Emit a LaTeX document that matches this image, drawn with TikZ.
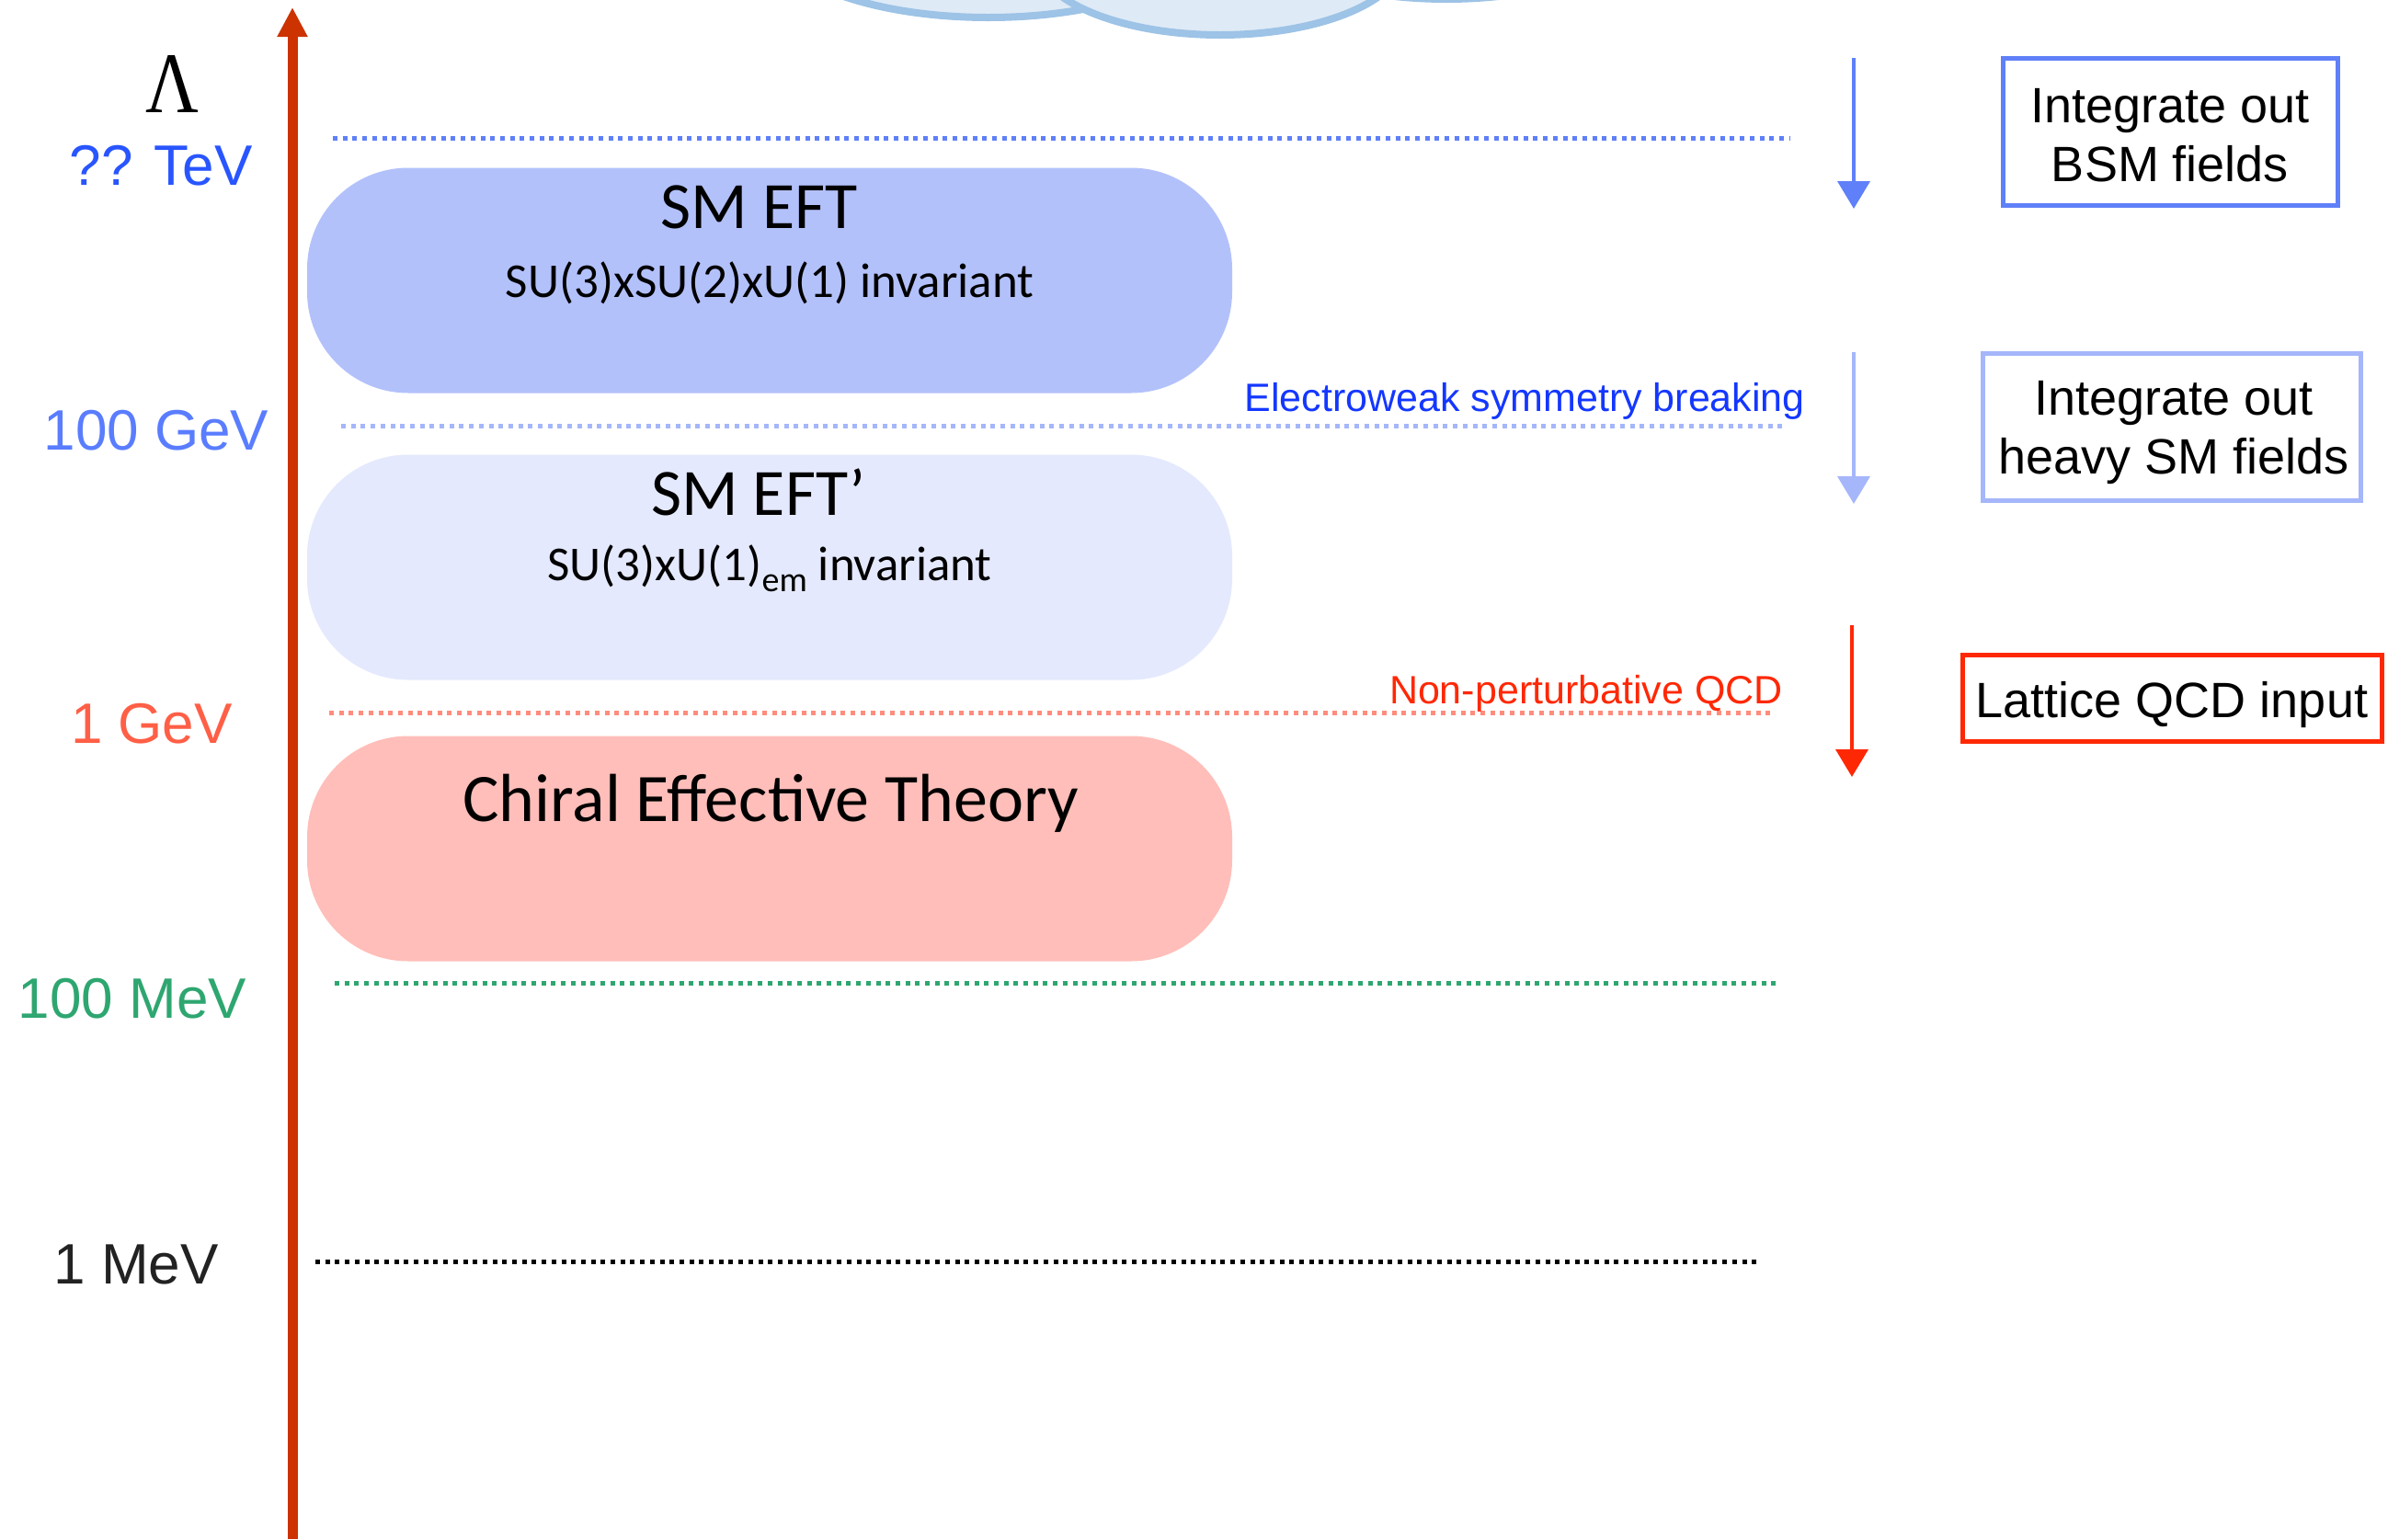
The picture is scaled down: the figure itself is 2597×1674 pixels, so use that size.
\documentclass[tikz,border=0pt]{standalone}
\usepackage{graphicx}
\usepackage{fontspec}
\usetikzlibrary{arrows.meta}
\newfontfamily\helv{Liberation Sans}
\newfontfamily\calfont{Carlito}
\newfontfamily\greekserif{Liberation Serif}

% palette
\definecolor{axisred}{RGB}{204,51,0}
\definecolor{tevblue}{RGB}{40,85,255}
\definecolor{bsmblue}{RGB}{95,128,248}
\definecolor{gevblue}{RGB}{90,125,255}
\definecolor{paleblue}{RGB}{165,182,250}
\definecolor{ewblue}{RGB}{20,55,255}
\definecolor{qcdred}{RGB}{255,40,5}
\definecolor{gevorange}{RGB}{255,95,70}
\definecolor{salmon}{RGB}{255,140,125}
\definecolor{mevgreen}{RGB}{46,166,112}
\definecolor{mevgrey}{RGB}{34,34,34}
\definecolor{smeftfill}{RGB}{179,193,251}
\definecolor{smeftpfill}{RGB}{228,233,253}
\definecolor{chiralfill}{RGB}{255,190,185}
\definecolor{cloudfill}{RGB}{222,234,246}
\definecolor{cloudline}{RGB}{157,195,230}

\tikzset{
  scalelabel/.style={inner sep=0pt, anchor=base, font=\helv\fontsize{62}{62}\selectfont},
  dotline/.style={line width=5pt, dash pattern=on 5pt off 5.7pt},
  eftbox/.style={rectangle, rounded corners=110pt, inner sep=0pt,
    minimum width=1006pt, minimum height=245pt},
  efttitle/.style={inner sep=0pt, anchor=base, font=\calfont\fontsize{72}{72}\selectfont},
  eftsub/.style={inner sep=0pt, anchor=base, font=\calfont\fontsize{53}{53}\selectfont},
  stepnote/.style={inner sep=0pt, anchor=base east, font=\helv\fontsize{43}{43}\selectfont},
  actionbox/.style={rectangle, draw, line width=5pt, inner sep=0pt},
  actiontext/.style={inner sep=0pt, align=center, text=black,
    font=\helv\fontsize{54}{64}\selectfont},
  flowarrow/.style={line width=4pt, -{Triangle[width=35pt,length=30pt]}},
  cloudpart/.style={fill=cloudfill, draw=cloudline, line width=8pt},
}

\begin{document}
\begin{tikzpicture}[x=1pt, y=-1pt]
\useasboundingbox (0,0) rectangle (2597,1674);
\clip (0,0) rectangle (2597,1674);

% cloud of new physics at the top edge
\draw[cloudpart] (1075,-71) ellipse [x radius=236pt, y radius=90pt];
\draw[cloudpart] (1327,-47) ellipse [x radius=200pt, y radius=85pt];
\draw[cloudpart] (1573,-91) ellipse [x radius=220pt, y radius=90pt];

% energy axis
\coordinate (axbot) at (318,1674);
\coordinate (axtop) at (318,8);
\draw[line width=11pt, axisred, -{Triangle[width=31pt,length=32pt]}] (axbot) -- (axtop);

% scale labels
\node[inner sep=0pt, anchor=base] (lam) at (187,122)
  {\scalebox{0.85}[1]{\greekserif\fontsize{94}{94}\selectfont Λ}};
\node[scalelabel, text=tevblue] (tev) at (175,201) {?? TeV};
\node[scalelabel, text=gevblue] (gev100) at (170,489) {100 GeV};
\node[scalelabel, text=gevorange] (gev1) at (165,808) {1 GeV};
\node[scalelabel, text=mevgreen] (mev100) at (144,1107) {100 MeV};
\node[scalelabel, text=mevgrey] (mev1) at (148,1396) {1 MeV};

% threshold lines
\coordinate (tevL) at (362,150);   \coordinate (tevR) at (1946,150);
\coordinate (ewL) at (371,463);    \coordinate (ewR) at (1941,463);
\coordinate (qcdL) at (358,775);   \coordinate (qcdR) at (1930,775);
\coordinate (mevL) at (364,1069);  \coordinate (mevR) at (1933,1069);
\coordinate (oneL) at (343,1372);  \coordinate (oneR) at (1912,1372);
\draw[dotline, bsmblue] (tevL) -- (tevR);
\draw[dotline, paleblue] (ewL) -- (ewR);
\draw[dotline, salmon] (qcdL) -- (qcdR);
\draw[dotline, mevgreen] (mevL) -- (mevR);
\draw[dotline, black] (oneL) -- (oneR);

% effective theories
\node[eftbox, fill=smeftfill] (smeft) at (837,305) {};
\node[efttitle] (smeftT) at (826,248) {SM EFT};
\node[eftsub] (smeftS) at (837,323) {SU(3)xSU(2)xU(1) invariant};

\node[eftbox, fill=smeftpfill] (smeftp) at (837,617) {};
\node[efttitle] (smeftpT) at (825,560) {SM EFT’};
\node[eftsub] (smeftpS) at (837,631)
  {SU(3)xU(1)\raisebox{-0.24em}{\fontsize{38}{38}\selectfont em} invariant};

\node[eftbox, fill=chiralfill] (chiral) at (837,923) {};
\node[efttitle, font=\calfont\fontsize{74}{74}\selectfont] (chiralT) at (838,893) {Chiral Effective Theory};

% transition notes
\node[stepnote, text=ewblue] (ewsb) at (1963,447) {Electroweak symmetry breaking};
\node[stepnote, text=qcdred] (npqcd) at (1939,765) {Non-perturbative QCD};

% matching steps
\coordinate (a1s) at (2016,63);  \coordinate (a1e) at (2016,227);
\coordinate (a2s) at (2016,383); \coordinate (a2e) at (2016,548);
\coordinate (a3s) at (2014,680); \coordinate (a3e) at (2014,845);
\draw[flowarrow, bsmblue] (a1s) -- (a1e);
\draw[flowarrow, paleblue] (a2s) -- (a2e);
\draw[flowarrow, qcdred] (a3s) -- (a3e);

\node[actionbox, draw=bsmblue, minimum width=364pt, minimum height=160pt] (bsm) at (2360,143) {};
\node[actiontext] (bsmT) at (2360,147) {Integrate out\\BSM fields};

\node[actionbox, draw=paleblue, minimum width=411pt, minimum height=160pt] (heavy) at (2362,464) {};
\node[actiontext] (heavyT) at (2364,471) {Integrate out\\heavy SM fields};

\node[actionbox, draw=qcdred, minimum width=456pt, minimum height=94pt] (lqcd) at (2362,759) {};
\node[actiontext] (lqcdT) at (2362,767) {Lattice QCD input};
\end{tikzpicture}
\end{document}
